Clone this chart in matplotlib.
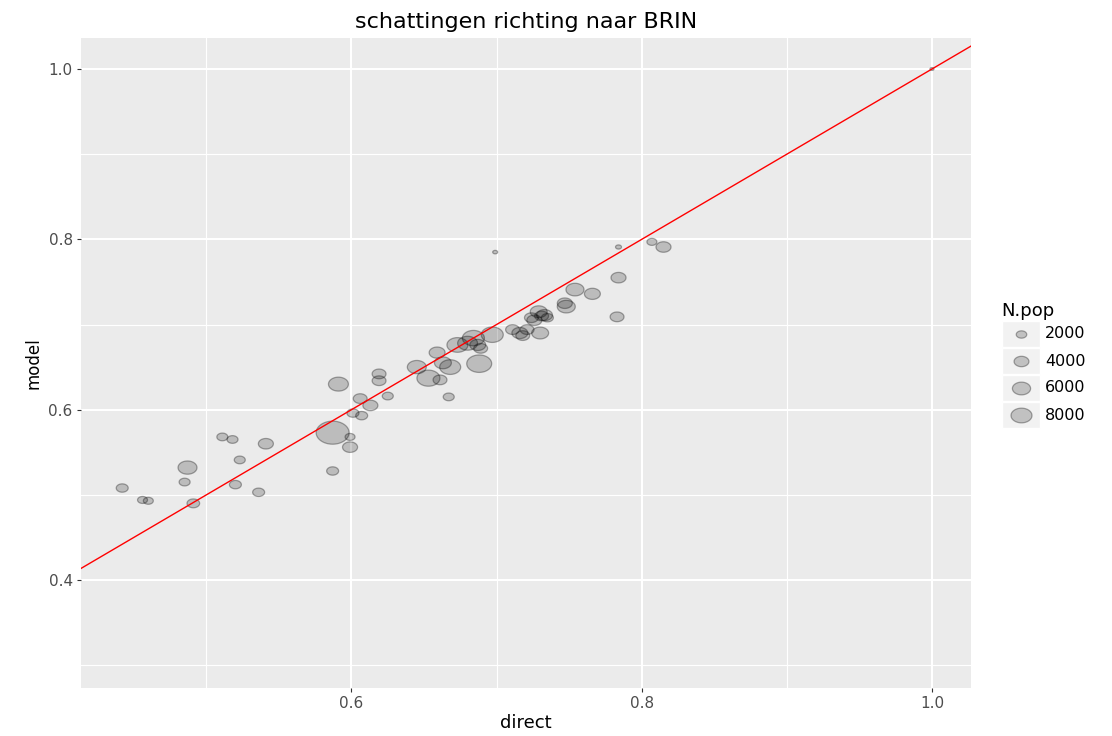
import matplotlib
matplotlib.use("Agg")
import matplotlib.pyplot as plt
import numpy as np
from matplotlib.path import Path
from matplotlib.patches import Rectangle

# data
direct = [0.442, 0.456, 0.460, 0.485, 0.487, 0.491, 0.511, 0.518, 0.523, 0.520,
          0.536, 0.541, 0.587, 0.599, 0.599, 0.587, 0.591, 0.601, 0.607, 0.606,
          0.613, 0.625, 0.619, 0.619, 0.645, 0.653, 0.661, 0.659, 0.663, 0.668,
          0.667, 0.673, 0.680, 0.684, 0.687, 0.689, 0.688, 0.697, 0.699, 0.711,
          0.716, 0.721, 0.730, 0.724, 0.729, 0.733, 0.735, 0.726, 0.747, 0.748,
          0.754, 0.766, 0.784, 0.783, 0.784, 0.807, 0.815, 1.000, 0.718, 0.731]
model = [0.508, 0.494, 0.493, 0.515, 0.532, 0.490, 0.568, 0.565, 0.541, 0.512,
         0.503, 0.560, 0.573, 0.568, 0.556, 0.528, 0.630, 0.596, 0.593, 0.613,
         0.605, 0.616, 0.642, 0.634, 0.650, 0.637, 0.635, 0.667, 0.655, 0.650,
         0.615, 0.676, 0.678, 0.684, 0.676, 0.672, 0.654, 0.688, 0.785, 0.694,
         0.690, 0.694, 0.690, 0.708, 0.715, 0.711, 0.708, 0.705, 0.725, 0.721,
         0.741, 0.736, 0.755, 0.709, 0.791, 0.797, 0.791, 1.000, 0.687, 0.710]
n_pop = [2600, 1800, 1800, 2200, 6500, 2900, 2200, 2200, 2200, 2600,
         2600, 4100, 19700, 1800, 4100, 2600, 7200, 2600, 2600, 3500,
         4100, 2200, 3500, 3500, 6500, 9600, 3500, 4600, 5200, 8000,
         2200, 8000, 7200, 8800, 4600, 3500, 11300, 8800, 450, 3500,
         4600, 3500, 5200, 3500, 5200, 4600, 2600, 4100, 4100, 5900,
         5900, 4600, 4100, 3500, 650, 1800, 4100, 300, 3500, 3500]
size_breaks = [2000, 4000, 6000, 8000]

W, H = 1112, 736
S_PER_N = 0.0286  # marker area (pt^2) per unit of N.pop

plt.rcParams.update({
    "font.family": ["DejaVu Sans"],
})

# slightly flattened marker, the reference is stretched horizontally
t = np.linspace(0, 2 * np.pi, 64)
ellipse = Path(np.column_stack([np.cos(t), 0.7 * np.sin(t)]), closed=True)

fig = plt.figure(figsize=(W / 100, H / 100), dpi=100)
ax = fig.add_axes([81 / W, 1 - 688 / H, 890 / W, 650 / H])
ax.set_facecolor("#EBEBEB")

ax.set_xlim(0.4136, 1.0269)
ax.set_ylim(0.2732, 1.0364)
ax.set_xticks([0.6, 0.8, 1.0])
ax.set_xticks([0.5, 0.7, 0.9], minor=True)
ax.set_yticks([0.4, 0.6, 0.8, 1.0])
ax.set_yticks([0.3, 0.5, 0.7, 0.9], minor=True)
ax.set_xticklabels(["0.6", "0.8", "1.0"])
ax.set_yticklabels(["0.4", "0.6", "0.8", "1.0"])
ax.grid(which="major", color="white", lw=1.5)
ax.grid(which="minor", color="white", lw=0.8)
ax.set_axisbelow(True)
for sp in ax.spines.values():
    sp.set_visible(False)
ax.tick_params(which="major", length=3, width=0.8, color="#333333",
               labelcolor="#4D4D4D", labelsize=11, pad=3)
ax.tick_params(which="minor", length=0)

ax.scatter(direct, model, s=[S_PER_N * n for n in n_pop], marker=ellipse,
           facecolor=(0, 0, 0, 0.2), edgecolor=(0, 0, 0, 0.32), linewidths=0.9,
           zorder=3)
ax.axline((0.5, 0.5), slope=1, color="red", lw=1.0, zorder=4)

ax.set_xlabel("direct", fontsize=13, labelpad=2)
ax.set_ylabel("model", fontsize=12, labelpad=4)
ax.set_title("schattingen richting naar BRIN", fontsize=16, pad=7)

# size legend
leg = fig.add_axes([990 / W, 1 - 440 / H, 122 / W, 150 / H])
leg.set_xlim(990, 1112)
leg.set_ylim(440, 290)
leg.axis("off")
leg.text(1001, 311, "N.pop", fontsize=13, va="center", ha="left")
for i, n in enumerate(size_breaks):
    cy = 334 + i * 27
    leg.add_patch(Rectangle((1002, cy - 13), 38, 26, facecolor="#F2F2F2",
                            edgecolor="white", lw=1))
    leg.scatter([1021], [cy], s=S_PER_N * n, marker=ellipse,
                facecolor=(0, 0, 0, 0.2), edgecolor=(0, 0, 0, 0.32),
                linewidths=0.9, zorder=3)
    leg.text(1045, cy, str(n), fontsize=11.5, va="center", ha="left")

fig.savefig("out.png", dpi=100)
